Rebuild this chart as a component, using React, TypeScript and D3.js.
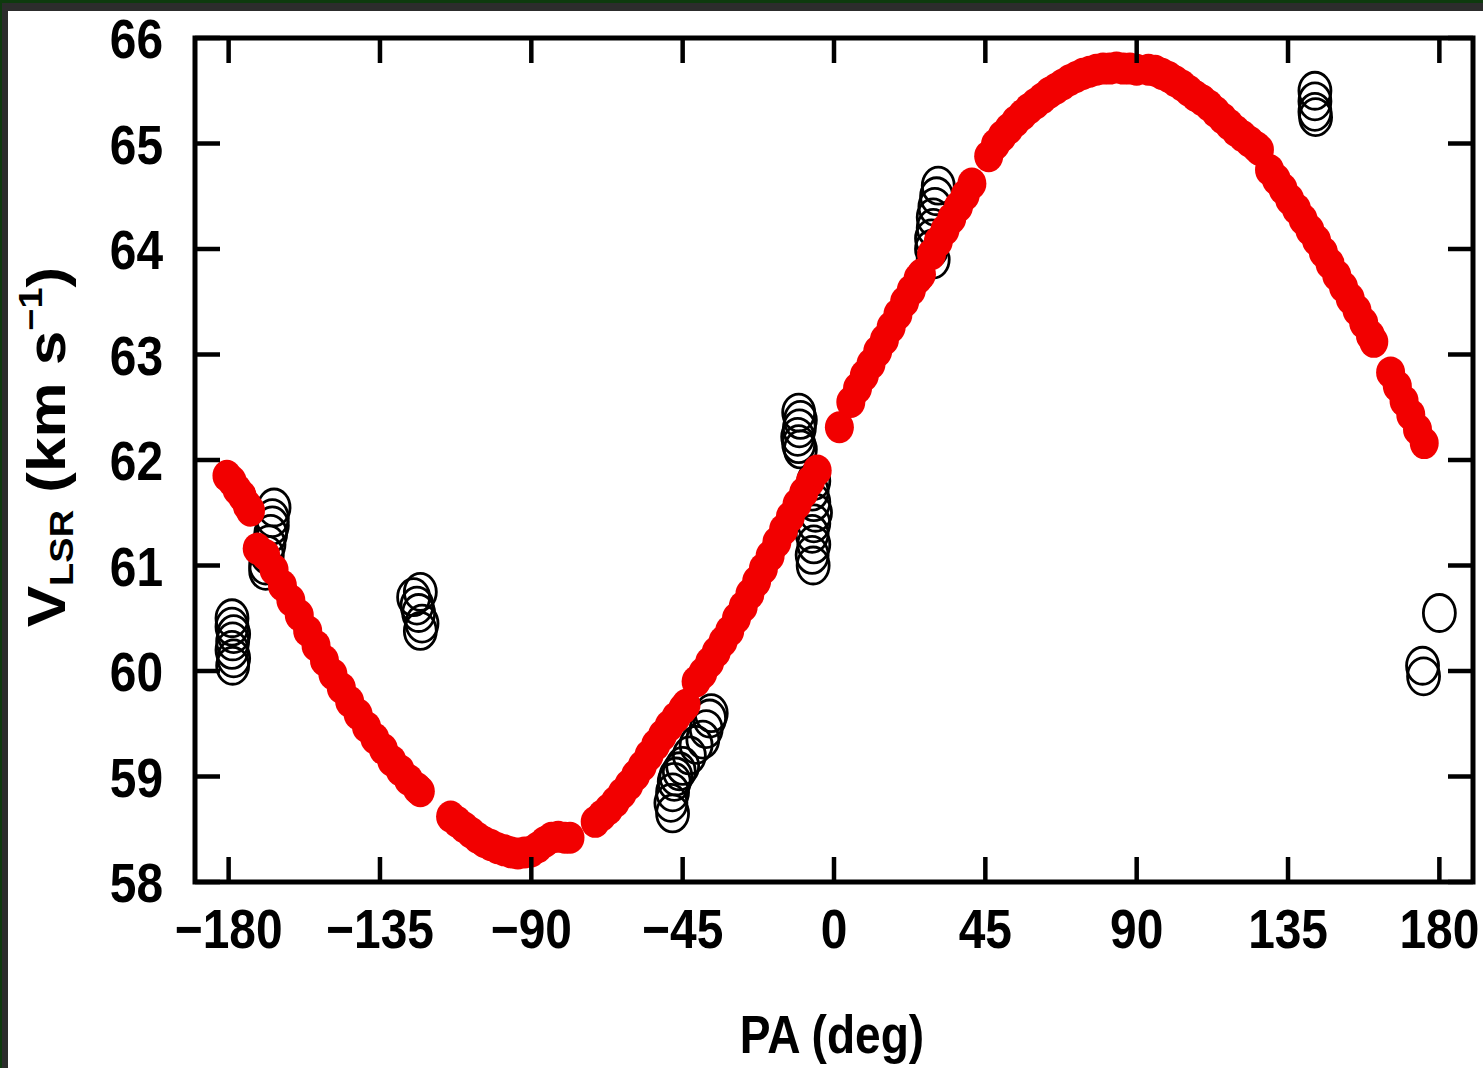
import React from "react";
import * as d3 from "d3";

// ---- data ----
const xTicks = [-180, -135, -90, -45, 0, 45, 90, 135, 180];
const yTicks = [58, 59, 60, 61, 62, 63, 64, 65, 66];

// filled red points [PA (deg), V_LSR (km/s)]
const redPoints: [number, number][] = [
  [-180.5, 61.85], [-179, 61.8], [-177.5, 61.72], [-176, 61.66], [-174.5, 61.57], [-173.5, 61.52],
  [-171.5, 61.16], [-169, 61.1], [-166.5, 60.96], [-164, 60.81], [-161.5, 60.67], [-159, 60.53],
  [-156.5, 60.38], [-154, 60.24], [-151.5, 60.1], [-149, 59.97], [-146.5, 59.84], [-144, 59.71],
  [-141.5, 59.59], [-139, 59.47], [-136.5, 59.36], [-134, 59.26], [-131.5, 59.15], [-129, 59.06],
  [-126.5, 58.97], [-124, 58.89], [-123, 58.86],
  [-114, 58.62], [-112, 58.57], [-110, 58.52], [-108, 58.47], [-106, 58.42], [-104, 58.38],
  [-102, 58.35], [-100, 58.32], [-98, 58.3], [-96, 58.28], [-94, 58.27], [-92, 58.28], [-90, 58.29],
  [-88, 58.33], [-86, 58.38], [-84, 58.42], [-82, 58.43], [-80, 58.42], [-78.5, 58.42],
  [-71, 58.57], [-69, 58.63], [-67, 58.69], [-65, 58.76], [-63, 58.84], [-61, 58.92], [-59, 59.01],
  [-57, 59.1], [-55, 59.2], [-53, 59.3], [-51, 59.39], [-49, 59.48], [-47, 59.56], [-45, 59.64], [-44, 59.68],
  [-41, 59.9], [-39, 59.98], [-37, 60.08], [-35, 60.18], [-33, 60.28], [-31, 60.38], [-29, 60.5],
  [-27, 60.61], [-25, 60.73], [-23, 60.85], [-21, 60.97], [-19, 61.09], [-17, 61.22], [-15, 61.34],
  [-13, 61.46], [-11, 61.58], [-9, 61.69], [-7, 61.8], [-5, 61.9],
  [1.6, 62.31],
  [5, 62.55], [7, 62.68], [9, 62.8], [11, 62.91], [13, 63.03], [15, 63.14], [17, 63.26], [19, 63.38],
  [21, 63.5], [23, 63.61], [25, 63.72], [26, 63.76],
  [29, 63.95], [31, 64.07], [33, 64.18], [35, 64.29], [37, 64.4], [39, 64.51], [41, 64.62],
  [46, 64.88], [48, 64.99], [50, 65.07], [52, 65.14], [54, 65.21], [56, 65.27], [58, 65.33], [60, 65.38],
  [62, 65.43], [64, 65.48], [66, 65.52], [68, 65.56], [70, 65.6], [72, 65.63], [74, 65.66], [76, 65.68],
  [78, 65.7], [80, 65.71], [82, 65.71], [84, 65.72], [86, 65.71], [88, 65.71], [90, 65.7],
  [93.5, 65.7], [95.5, 65.69], [97.5, 65.66], [99.5, 65.63], [101.5, 65.59], [103.5, 65.55], [105.5, 65.5],
  [107.5, 65.45], [109.5, 65.41], [111.5, 65.36], [113.5, 65.3], [115.5, 65.24], [117.5, 65.18],
  [119.5, 65.12], [121.5, 65.07], [123.5, 65.02], [125.5, 64.97], [126.5, 64.94],
  [129.5, 64.75], [131.5, 64.66], [133.5, 64.57], [135.5, 64.47], [137.5, 64.38], [139.5, 64.28],
  [141.5, 64.18], [143.5, 64.08], [145.5, 63.97], [147.5, 63.86], [149.5, 63.75], [151.5, 63.64],
  [153.5, 63.53], [155.5, 63.42], [157.5, 63.3], [159.5, 63.18], [160.5, 63.12],
  [165.5, 62.83], [167.5, 62.7], [169.5, 62.56], [171.5, 62.43], [173.5, 62.29], [175.5, 62.16],
];

// open black circles [PA (deg), V_LSR (km/s)]
const openPoints: [number, number][] = [
  [-179, 60.5], [-179, 60.42], [-178.5, 60.35], [-178.8, 60.28], [-179, 60.2], [-178.5, 60.12], [-178.8, 60.05],
  [-166.5, 61.55], [-167, 61.45], [-167, 61.38], [-167.5, 61.3], [-168, 61.2], [-168.5, 61.1], [-169, 61.0], [-169, 60.95],
  [-125, 60.7], [-124, 60.62], [-123, 60.75], [-123.5, 60.55], [-122.5, 60.45], [-123, 60.38],
  [-48, 58.65], [-48.5, 58.75], [-48, 58.85], [-47.5, 58.95], [-47, 59.0], [-46, 59.05], [-45, 59.1],
  [-43, 59.2], [-41, 59.3], [-39, 59.35], [-38, 59.45], [-37, 59.55], [-36.5, 59.6],
  [-10.5, 62.45], [-10, 62.38], [-10.3, 62.3], [-10.8, 62.22], [-10.5, 62.15], [-10, 62.1],
  [-6, 61.8], [-6.5, 61.7], [-6, 61.6], [-5.5, 61.5], [-6, 61.4], [-6.5, 61.3], [-6, 61.2], [-6.5, 61.1], [-6.2, 61.0],
  [31, 64.6], [30.5, 64.5], [30, 64.4], [29.5, 64.3], [29.5, 64.2], [29, 64.1], [29, 64.0], [29.5, 63.9],
  [143, 65.5], [143, 65.4], [143, 65.3], [143.2, 65.25],
  [180, 60.55],
  [175, 60.05], [175.3, 59.95],
];

const xLabel = "PA (deg)";

const W = 1483;
const H = 1068;
const SX = 0.87; // horizontal squeeze seen in the reference
const FONT = "'Liberation Sans', Arial, Helvetica, sans-serif";

export default function App() {
  const left = 195, right = 1473, top = 38, bottom = 882;
  const x = d3.scaleLinear().domain([-190, 190]).range([left, right]);
  const y = d3.scaleLinear().domain([58, 66]).range([bottom, top]);
  const tickLen = 25;
  const fmt = (v: number) => (v < 0 ? "\u2212" + Math.abs(v) : String(v));

  return (
    <div style={{ position: "absolute", left: 0, top: 0 }}>
      <svg width={W} height={H} xmlns="http://www.w3.org/2000/svg">
        {/* outer dark frame */}
        <rect x={0} y={0} width={W} height={H} fill="#2c2c2c" />
        <rect x={0} y={0} width={W} height={3} fill="#0e3a0e" />
        <rect x={0} y={0} width={2} height={H} fill="#0e3a0e" />
        <rect x={8} y={11} width={W - 8} height={H - 11} fill="#ffffff" />

        {/* open circles */}
        <g>
          {openPoints.map(([pa, v], i) => (
            <ellipse key={"o" + i} cx={x(pa)} cy={y(v)} rx={16} ry={18.5} fill="none" stroke="#000" strokeWidth={2.8} />
          ))}
        </g>
        {/* red filled points */}
        <g>
          {redPoints.map(([pa, v], i) => (
            <ellipse key={"r" + i} cx={x(pa)} cy={y(v)} rx={14.5} ry={16} fill="#f20000" />
          ))}
        </g>

        {/* ticks */}
        <g stroke="#000" strokeWidth={4.5}>
          {xTicks.map((t) => (
            <g key={"xt" + t}>
              <line x1={x(t)} x2={x(t)} y1={bottom} y2={bottom - tickLen} />
              <line x1={x(t)} x2={x(t)} y1={top} y2={top + tickLen} />
            </g>
          ))}
          {yTicks.map((t) => (
            <g key={"yt" + t}>
              <line x1={left} x2={left + tickLen} y1={y(t)} y2={y(t)} />
              <line x1={right} x2={right - tickLen} y1={y(t)} y2={y(t)} />
            </g>
          ))}
        </g>
        {/* frame */}
        <rect x={left} y={top} width={right - left} height={bottom - top} fill="none" stroke="#000" strokeWidth={5} />

        {/* tick labels */}
        <g fontFamily={FONT} fontWeight="bold" fontSize={55} fill="#000">
          {xTicks.map((t) => (
            <text key={"xl" + t} transform={`translate(${x(t)},948) scale(${SX},1)`} textAnchor="middle">
              {fmt(t)}
            </text>
          ))}
          {yTicks.map((t) => (
            <text key={"yl" + t} transform={`translate(163,${y(t) + 20}) scale(${SX},1)`} textAnchor="end">
              {fmt(t)}
            </text>
          ))}
        </g>

        {/* axis titles */}
        <text
          transform={`translate(${(left + right) / 2 - 2},1053) scale(${SX},1)`}
          textAnchor="middle"
          fontFamily={FONT}
          fontWeight="bold"
          fontSize={53}
        >
          {xLabel}
        </text>
        <text
          transform={`translate(65,447) scale(${SX},1) rotate(-90)`}
          textAnchor="middle"
          fontFamily={FONT}
          fontWeight="bold"
          fontSize={62}
        >
          <tspan>V</tspan>
          <tspan dy={9} fontSize={38}>LSR</tspan>
          <tspan dy={-9}> (km s</tspan>
          <tspan dy={-26} fontSize={38}>{"\u22121"}</tspan>
          <tspan dy={26}>)</tspan>
        </text>
      </svg>
    </div>
  );
}
